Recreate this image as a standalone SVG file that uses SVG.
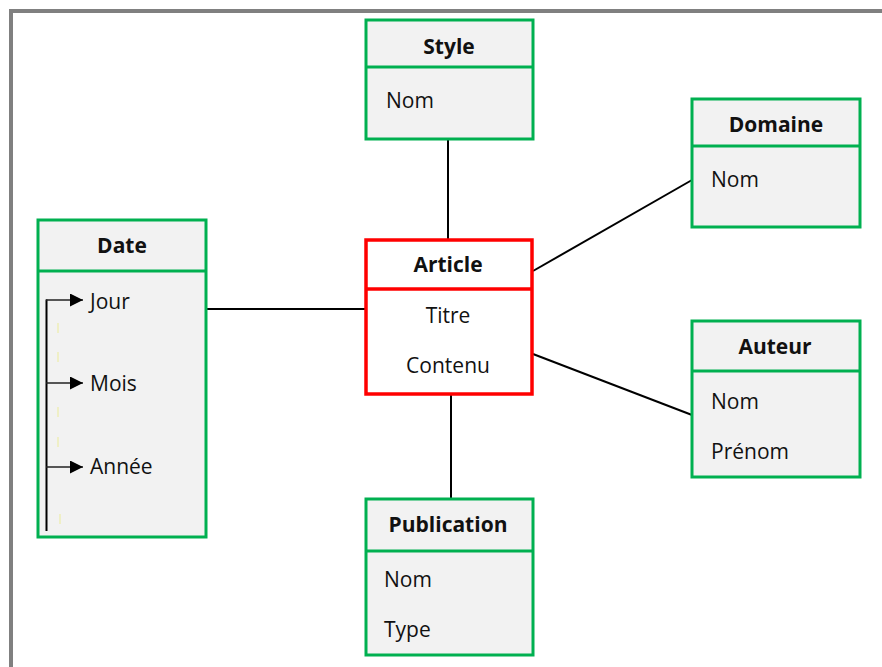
<svg xmlns="http://www.w3.org/2000/svg" width="882" height="667" viewBox="0 0 882 667">
<defs>
<style>
.ent{fill:#f2f2f2;stroke:#00b050;stroke-width:3}
.div{stroke:#00b050;stroke-width:3}
.main{fill:#ffffff;stroke:#ff0000;stroke-width:3.5}
.mdiv{stroke:#ff0000;stroke-width:3.5}
.hd{font-family:"Open Sans","DejaVu Sans",sans-serif;font-weight:700;font-size:21px;fill:#111;text-anchor:middle}
.at{font-family:"Open Sans","DejaVu Sans",sans-serif;font-size:21px;fill:#111}
.atc{font-family:"Open Sans","DejaVu Sans",sans-serif;font-size:21px;fill:#111;text-anchor:middle}
.con{stroke:#000;stroke-width:2;fill:none}
.arr{stroke:#222;stroke-width:1.6;fill:none}
.dash{stroke:#eeeeb8;stroke-width:1.5;fill:none}
</style>
<marker id="ah" viewBox="0 0 10 10" refX="10" refY="5" markerWidth="15" markerHeight="13" markerUnits="userSpaceOnUse" orient="auto">
<path d="M0,0 L10,5 L0,10 z" fill="#000"/>
</marker>
</defs>
<rect x="0" y="0" width="882" height="667" fill="#ffffff"/>
<rect x="11" y="11" width="900" height="700" fill="none" stroke="#808080" stroke-width="4"/>
<g id="connectors">
<line class="con" x1="448" y1="139" x2="448" y2="239"/>
<line class="con" x1="206" y1="309" x2="365" y2="309"/>
<line class="con" x1="533" y1="271" x2="692" y2="180"/>
<line class="con" x1="533" y1="354" x2="692" y2="415"/>
<line class="con" x1="451" y1="394" x2="451" y2="499"/>
</g>
<g id="style">
<rect class="ent" x="366" y="20" width="167" height="119"/>
<line class="div" x1="366" y1="67" x2="533" y2="67"/>
<text class="hd" x="449" y="54">Style</text>
<text class="at" x="386" y="108">Nom</text>
</g>
<g id="domaine">
<rect class="ent" x="692" y="99" width="168" height="128"/>
<line class="div" x1="692" y1="146" x2="860" y2="146"/>
<text class="hd" x="776" y="132">Domaine</text>
<text class="at" x="711" y="187">Nom</text>
</g>
<g id="date">
<rect class="ent" x="38" y="220" width="168" height="317"/>
<line class="div" x1="38" y1="271" x2="206" y2="271"/>
<text class="hd" x="122" y="253">Date</text>
<line x1="46.5" y1="299.5" x2="46.5" y2="531" stroke="#000" stroke-width="2"/>
<line class="arr" x1="46" y1="300" x2="83" y2="300" marker-end="url(#ah)"/>
<line class="arr" x1="46" y1="383" x2="83" y2="383" marker-end="url(#ah)"/>
<line class="arr" x1="46" y1="467" x2="83" y2="467" marker-end="url(#ah)"/>
<path class="dash" d="M58,323 V333 M58,352 V362 M58,407 V417 M58,437 V447 M60,514 V524"/>
<text class="at" x="90" y="308.5">Jour</text>
<text class="at" x="90" y="391">Mois</text>
<text class="at" x="90" y="474">Année</text>
</g>
<g id="article">
<rect class="main" x="366" y="240" width="166" height="154"/>
<line class="mdiv" x1="366" y1="289" x2="532" y2="289"/>
<text class="hd" x="448" y="272">Article</text>
<text class="atc" x="448" y="323">Titre</text>
<text class="atc" x="448" y="373">Contenu</text>
</g>
<g id="auteur">
<rect class="ent" x="692" y="321" width="168" height="156"/>
<line class="div" x1="692" y1="371" x2="860" y2="371"/>
<text class="hd" x="775" y="354">Auteur</text>
<text class="at" x="711" y="409">Nom</text>
<text class="at" x="711" y="459">Prénom</text>
</g>
<g id="publication">
<rect class="ent" x="366" y="499" width="167" height="156"/>
<line class="div" x1="366" y1="551" x2="533" y2="551"/>
<text class="hd" x="448" y="532">Publication</text>
<text class="at" x="384" y="587">Nom</text>
<text class="at" x="384" y="637">Type</text>
</g>
</svg>
